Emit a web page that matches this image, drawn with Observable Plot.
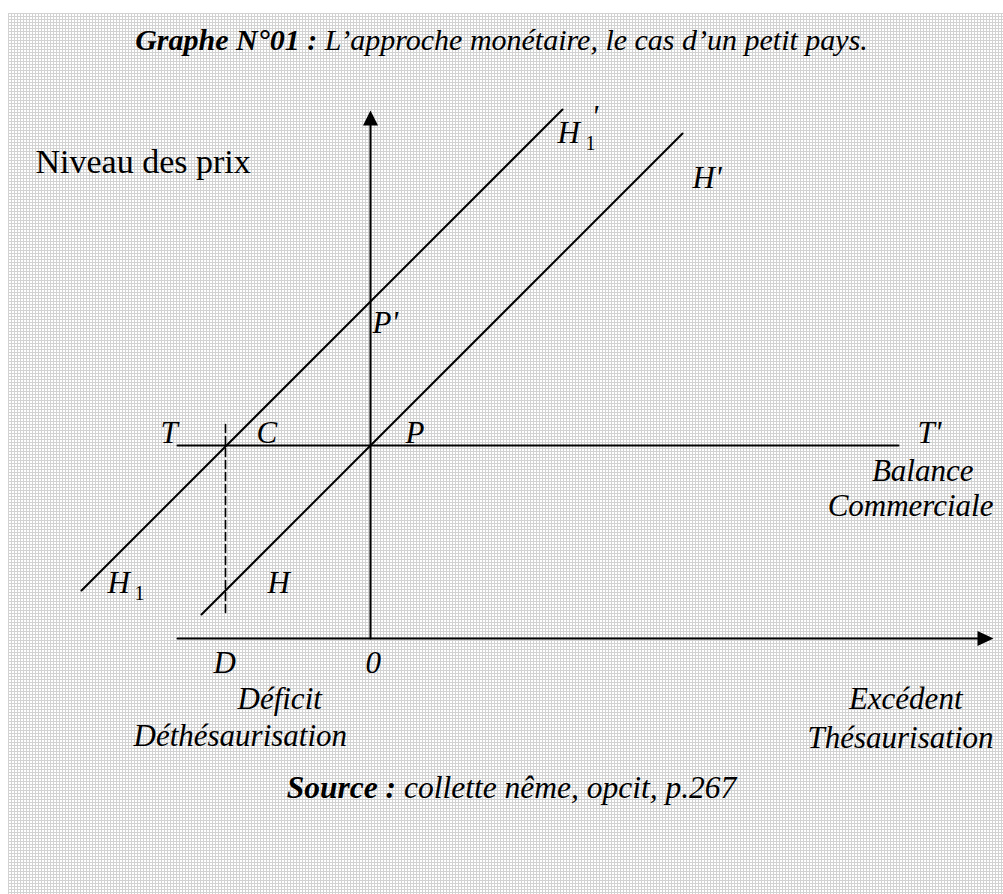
<!DOCTYPE html>
<html><head><meta charset="utf-8">
<script src="https://cdn.jsdelivr.net/npm/d3@7"></script>
<script src="https://cdn.jsdelivr.net/npm/@observablehq/plot@0.6"></script>
<style>
html,body{margin:0;padding:0;width:1003px;height:894px;overflow:hidden;background:#fff;}
#bg{position:absolute;left:8px;top:13px;right:0;bottom:0;background-color:#fff;
 background-image:linear-gradient(90deg,#d2d2d2 1px,transparent 1px),linear-gradient(#d2d2d2 1px,transparent 1px);
 background-size:3px 3px;}
#wrap{position:absolute;left:0;top:0;width:1003px;}
.ttl{height:75px;box-sizing:border-box;padding-top:25px;text-align:center;font-family:"Liberation Serif";font-style:italic;font-size:30px;line-height:30px;color:#000;}
.src{box-sizing:border-box;padding-top:8px;padding-left:20px;text-align:center;font-family:"Liberation Serif";font-style:italic;font-size:31.5px;line-height:30px;color:#000;}
b{font-weight:bold;}
</style></head>
<body>
<div id="bg"></div>
<div id="wrap">
<div class="ttl"><b>Graphe N°01 :</b> L’approche monétaire, le cas d’un petit pays.</div>
<div id="chart"></div>
<div class="src"><b>Source :</b> collette nême, opcit, p.267</div>
</div>
<script>
// Conceptual coordinates: u = balance commerciale, v = niveau des prix
const xAxisU = [-1.93, 6.15];       // horizontal axis (balance)
const yAxisV = [0, 5.20];           // vertical axis (prix)
const arrowTips = [{u: 0, v: 5.28, dir: "up"}, {u: 6.23, v: 0, dir: "right"}];
const tLevel = 1.93;                // T–T' line
const tU = [-1.93, 5.28];
const hU = [-1.69, 3.12];           // H  -> H'
const hV = [0.24, 5.05];
const h1U = [-2.89, 1.92];          // H1 -> H1'
const h1V = [0.48, 5.29];
const dU = -1.45;                   // D (déficit) dashed line
const dV = [0.26, 2.18];

const labelsL = ["T", "C", "P", "P'", "H", "H", "H'", "D", "0", "Déficit", "Déthésaurisation", "T'"];
const labelsLU = [-2.10, -1.14, 0.35, 0.02, -2.63, -1.03, 3.22, -1.57, -0.05, -1.33, -2.37, 5.47];
const labelsLV = [1.96, 1.96, 1.96, 3.06, 0.46, 0.46, 4.51, -0.34, -0.34, -0.70, -1.07, 1.96];
const labelsR = ["Balance", "Commerciale", "Excédent", "Thésaurisation"];
const labelsRU = [6.03, 6.23, 5.92, 6.23];
const labelsRV = [1.58, 1.23, -0.70, -1.09];
const h1Top = {H: [1.87, 4.96], sub: [2.15, 4.89], prime: [2.21, 5.12]};
const h1Bot = {sub: [-2.36, 0.39]};
const yTitle = {text: "Niveau des prix", u: -3.35, v: 4.66};

const rowsL = labelsL.map((t, i) => ({t, u: labelsLU[i], v: labelsLV[i]}));
const rowsR = labelsR.map((t, i) => ({t, u: labelsRU[i], v: labelsRV[i]}));
const hRows = [{u: hU[0], v: hV[0]}, {u: hU[1], v: hV[1]}];
const h1Rows = [{u: h1U[0], v: h1V[0]}, {u: h1U[1], v: h1V[1]}];

const arrowUp = {draw(c) { c.moveTo(0, 0); c.lineTo(-7.5, 15); c.lineTo(7.5, 15); c.closePath(); }};
const arrowRight = {draw(c) { c.moveTo(0, 0); c.lineTo(-16, -7.5); c.lineTo(-16, 7.5); c.closePath(); }};

const font = {fontFamily: "Liberation Serif", fill: "#000", lineAnchor: "bottom"};
const sw = 2;

const plot = Plot.plot({
  width: 1003, height: 690,
  marginTop: 0, marginBottom: 0, marginLeft: 0, marginRight: 0,
  style: "background: transparent; overflow: visible;",
  x: {type: "linear", domain: [-3.70, 6.33], range: [0, 1003], axis: null},
  y: {type: "linear", domain: [-1.27, 5.63], range: [690, 0], axis: null},
  marks: [
    Plot.line([{u: xAxisU[0], v: 0}, {u: xAxisU[1], v: 0}], {x: "u", y: "v", stroke: "#000", strokeWidth: sw}),
    Plot.line([{u: 0, v: yAxisV[0]}, {u: 0, v: yAxisV[1]}], {x: "u", y: "v", stroke: "#000", strokeWidth: sw}),
    Plot.line([{u: tU[0], v: tLevel}, {u: tU[1], v: tLevel}], {x: "u", y: "v", stroke: "#000", strokeWidth: sw}),
    Plot.line(hRows, {x: "u", y: "v", stroke: "#000", strokeWidth: sw}),
    Plot.line(h1Rows, {x: "u", y: "v", stroke: "#000", strokeWidth: sw}),
    Plot.line([{u: dU, v: dV[0]}, {u: dU, v: dV[1]}], {x: "u", y: "v", stroke: "#000", strokeWidth: 1.6, strokeDasharray: "8,4"}),
    Plot.dot(arrowTips.filter(d => d.dir === "up"), {x: "u", y: "v", symbol: arrowUp, fill: "#000", stroke: "none"}),
    Plot.dot(arrowTips.filter(d => d.dir === "right"), {x: "u", y: "v", symbol: arrowRight, fill: "#000", stroke: "none"}),
    Plot.text([yTitle], {x: "u", y: "v", text: "text", textAnchor: "start", fontSize: 34, ...font}),
    Plot.text(rowsL, {x: "u", y: "v", text: "t", textAnchor: "start", fontSize: 31, fontStyle: "italic", ...font}),
    Plot.text(rowsR, {x: "u", y: "v", text: "t", textAnchor: "end", fontSize: 31, fontStyle: "italic", ...font}),
    Plot.text([{u: h1Top.H[0], v: h1Top.H[1], t: "H"}], {x: "u", y: "v", text: "t", textAnchor: "start", fontSize: 31, fontStyle: "italic", ...font}),
    Plot.text([{u: h1Top.sub[0], v: h1Top.sub[1], t: "1"}, {u: h1Bot.sub[0], v: h1Bot.sub[1], t: "1"}], {x: "u", y: "v", text: "t", textAnchor: "start", fontSize: 20, ...font}),
    Plot.text([{u: h1Top.prime[0], v: h1Top.prime[1], t: "'"}], {x: "u", y: "v", text: "t", textAnchor: "start", fontSize: 31, fontStyle: "italic", ...font})
  ]
});
document.getElementById("chart").appendChild(plot);
</script>
</body></html>
